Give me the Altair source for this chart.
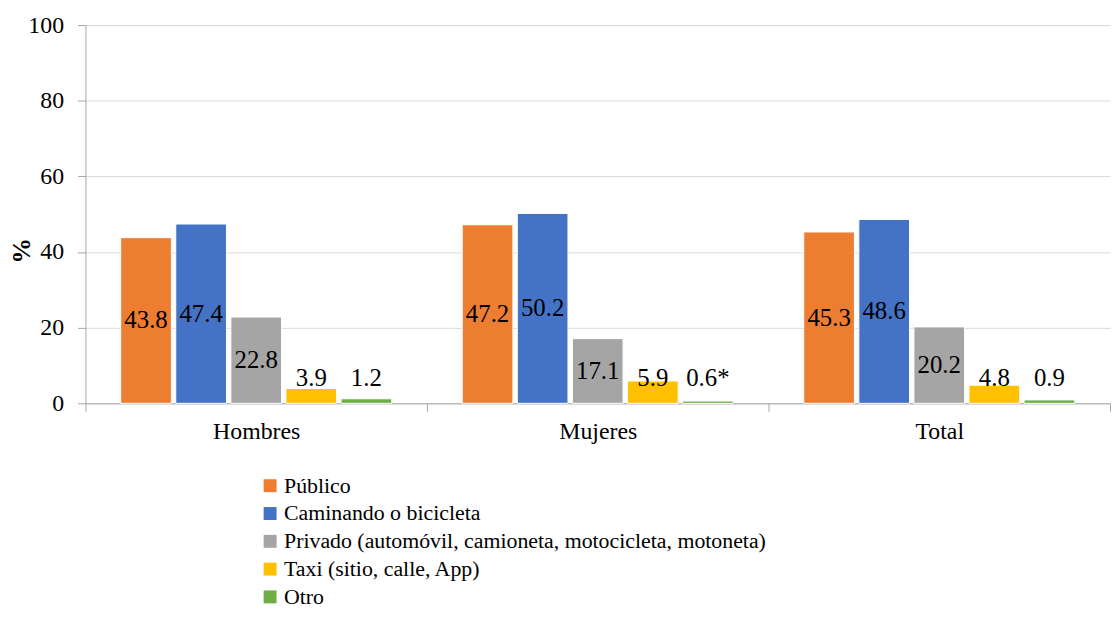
import altair as alt
import pandas as pd

grupos = ["Hombres", "Mujeres", "Total"]
modos = ["Público", "Caminando o bicicleta",
         "Privado (automóvil, camioneta, motocicleta, motoneta)",
         "Taxi (sitio, calle, App)", "Otro"]
publico = [43.8, 47.2, 45.3]
caminando = [47.4, 50.2, 48.6]
privado = [22.8, 17.1, 20.2]
taxi = [3.9, 5.9, 4.8]
otro = [1.2, 0.6, 0.9]
etiquetas_otro = ["1.2", "0.6*", "0.9"]
colores = ["#ED7D31", "#4472C4", "#A5A5A5", "#FFC000", "#70AD47"]

rows = []
series = [publico, caminando, privado, taxi, otro]
for mi, (m, vals) in enumerate(zip(modos, series)):
    for gi, g in enumerate(grupos):
        lab = etiquetas_otro[gi] if m == "Otro" else f"{vals[gi]:.1f}"
        rows.append({"grupo": g, "modo": m, "orden": mi, "valor": vals[gi], "etiqueta": lab})
df = pd.DataFrame(rows)

FONT = "Liberation Serif, Tinos, Times New Roman, Times, DejaVu Serif, serif"

x = alt.X("grupo:N", sort=grupos, title=None,
          scale=alt.Scale(paddingInner=0, paddingOuter=0),
          axis=alt.Axis(labelAngle=0, labelFontSize=24, labelFont=FONT, labelColor="black",
                        tickBand="extent", tickSize=8, tickColor="#a6a6a6",
                        domainColor="#a6a6a6", labelPadding=8))
xoff = alt.XOffset("modo:N", sort=modos,
                   scale=alt.Scale(paddingInner=0.08, paddingOuter=0.64))

base = alt.Chart(df)

bars = base.mark_bar(stroke="white", strokeWidth=1).encode(
    x=x,
    xOffset=xoff,
    y=alt.Y("valor:Q", title="%",
            scale=alt.Scale(domain=[0, 100], nice=False),
            axis=alt.Axis(values=[0, 20, 40, 60, 80, 100], labelFontSize=24, labelFont=FONT,
                          labelColor="black", tickSize=8, tickColor="#a6a6a6",
                          domainColor="#a6a6a6", gridColor="#d9d9d9", labelPadding=14,
                          titleFont=FONT, titleFontSize=26, titleFontWeight="bold",
                          titleColor="black", titleAngle=-90, titleX=-64, titleY=227,
                          titleAlign="center", titleBaseline="middle")),
    color=alt.Color("modo:N", sort=modos, title=None,
                    scale=alt.Scale(domain=modos, range=colores),
                    legend=alt.Legend(orient="none", legendX=175, legendY=453,
                                      direction="vertical", symbolType="square",
                                      symbolSize=170, symbolStrokeWidth=0,
                                      labelFont=FONT, labelFontSize=22, labelColor="black",
                                      labelLimit=800, rowPadding=6, labelOffset=3)),
)

text = base.transform_calculate(
    ypos="max(datum.valor / 2, 6.8)"
).mark_text(font=FONT, fontSize=25, color="black", baseline="middle").encode(
    x=alt.X("grupo:N", sort=grupos),
    xOffset=xoff,
    y=alt.Y("ypos:Q"),
    text="etiqueta:N",
)

chart = (bars + text).properties(
    width=1032, height=381,
    autosize=alt.AutoSizeParams(type="none"),
    padding={"left": 78, "top": 15, "right": 2, "bottom": 205},
).configure_view(stroke=None)

chart.save("out.html", embed_options={"renderer": "svg", "actions": False})
